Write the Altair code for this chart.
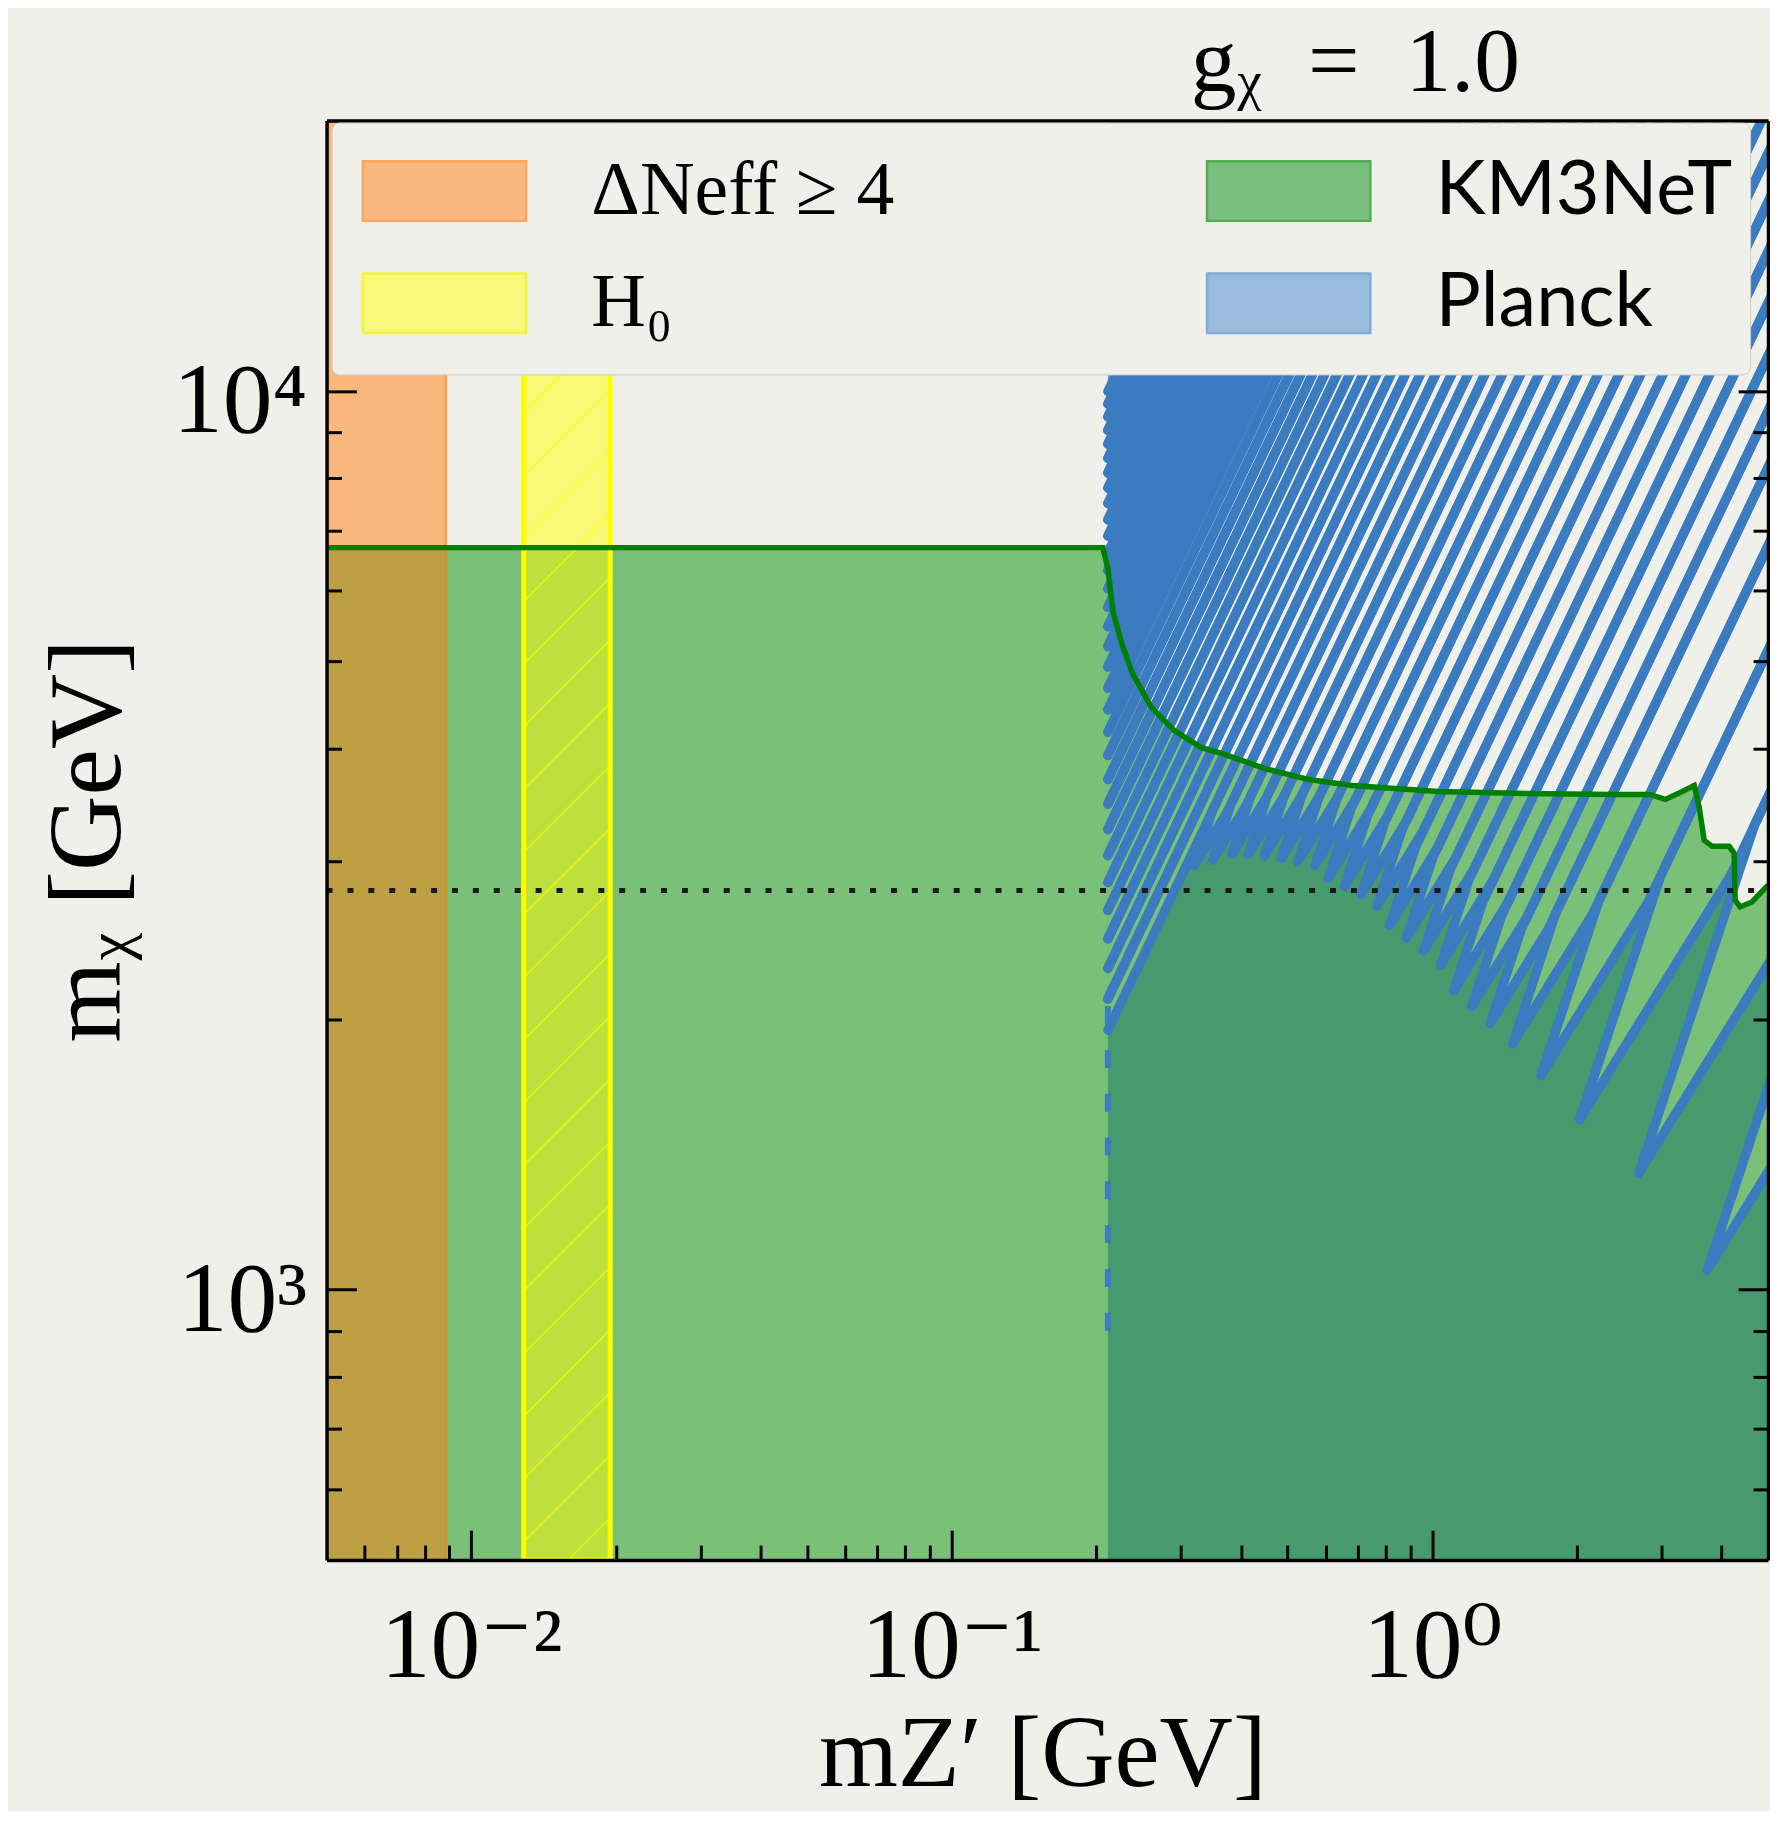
import altair as alt
import numpy as np
import pandas as pd

# ---------------------------------------------------------------- style
W, H = 1448, 1446
BG = "#f0f0eb"
PLANCK_FILL = "#6f94d1"
PLANCK_LINE = "#3b7bc0"
SERIF = "Liberation Serif, DejaVu Serif, serif"

# ---------------------------------------------------------------- data
X_DOMAIN = [0.005, 5.0]          # m_Z' [GeV]
Y_DOMAIN = [500.0, 20000.0]      # m_chi [GeV]

x_major = [0.01, 0.1, 1.0]
x_major_text = ["10\u207b\u00b2", "10\u207b\u00b9", "10\u2070"]
x_minor = [0.006, 0.007, 0.008, 0.009, 0.02, 0.03, 0.04, 0.05, 0.06, 0.07,
           0.08, 0.09, 0.2, 0.3, 0.4, 0.5, 0.6, 0.7, 0.8, 0.9, 2, 3, 4]
y_major = [1000, 10000]
y_major_text = ["10\u00b3", "10\u2074"]
y_minor = [600, 700, 800, 900, 2000, 3000, 4000, 5000, 6000, 7000, 8000, 9000]

# KM3NeT exclusion boundary
km3_x = [0.005, 0.2064, 0.2114, 0.2166, 0.2261, 0.2382, 0.2608, 0.2911, 0.3311,
         0.3660, 0.4493, 0.5542, 0.6805, 1.030, 1.561, 2.375, 2.833, 3.058,
         3.317, 3.511, 3.596, 3.683, 3.826, 4.150, 4.250, 4.271, 4.374, 4.631, 5.0]
km3_y = [6695, 6695, 6345, 5686, 5227, 4842, 4441, 4186, 4010, 3949, 3800, 3695,
         3639, 3584, 3566, 3557, 3557, 3512, 3584, 3639, 3440, 3162, 3114, 3114,
         3059, 2714, 2666, 2700, 2819]

dneff_band = [0.005, 0.00886]
h0_band = [0.01286, 0.01947]
planck_edge = 0.2114
planck_dash_y = [900, 2100]
dotted_y = 2780

# Planck: allowed "lobes" (resonance fingers) cut out of the excluded region.
# lobe k lies between lobe_bounds_x[k] and lobe_bounds_x[k+1] at m_chi = 1e4;
# lobes whose tip sits on the Planck edge run into it, the others close at a tip.
lobe_bounds_x = [0.2116, 0.2177, 0.2242, 0.2312, 0.2386, 0.2464, 0.2548, 0.2637,
                 0.2732, 0.2835, 0.2943, 0.3059, 0.3184, 0.3319, 0.3463, 0.3618,
                 0.3786, 0.3967, 0.4163, 0.4375, 0.4606, 0.4857, 0.5129, 0.5426,
                 0.5748, 0.6101, 0.6487, 0.6914, 0.7379, 0.7895, 0.8462, 0.9091,
                 0.9788, 1.0563, 1.1429, 1.2393, 1.3475, 1.4689, 1.6052, 1.7590,
                 1.9334, 2.1308, 2.3565, 2.6142, 2.9084, 3.2478, 3.6384, 4.0906,
                 4.6174, 5.2335, 5.9524, 7.116, 9.035, 12.62, 20.33, 37.80, 89.19,
                 280.2]
lobe_tip_x = [0.2114] * 31 + [
    0.3200, 0.3494, 0.3825, 0.4136, 0.4476, 0.4852, 0.5254, 0.5707, 0.6075,
    0.6565, 0.7113, 0.7678, 0.8157, 0.8840, 0.9587, 1.0422, 1.1078, 1.2074,
    1.3203, 1.4711, 1.6845, 2.0277, 2.6915, 3.7363, 5.590, 9.645]
lobe_tip_y = [9826, 9511, 9196, 8878, 8567, 8254, 7946, 7644, 7338, 7040, 6743,
              6452, 6163, 5879, 5603, 5326, 5059, 4795, 4540, 4289, 4045, 3808,
              3579, 3356, 3143, 2935, 2736, 2545, 2362, 2189, 2021,
              2965, 3006, 3050, 3047, 3035, 3020, 2993, 2967, 2867, 2810, 2750,
              2672, 2542, 2463, 2380, 2297, 2151, 2064, 1977, 1878, 1730, 1546,
              1347, 1051, 718.5, 427.6]
LOBE_REF_Y = 1e4
STRIPE_SLOPE = 1.123     # log-log tilt of the fingers
TAPER = 1.87             # finger tip length (decades of m_chi per decade of width)

legend_labels = ["\u0394Neff \u2265 4", "H\u2080", "KM3NeT", "Planck"]
legend_fill = ["#f8b97e", "#f8f87a", "#7abf7b", "#99bbdc"]
legend_edge = ["#fba45c", "#f4f43c", "#55ad55", "#80abd6"]

# ---------------------------------------------------------------- frames
km3 = pd.DataFrame({"x": km3_x, "y": km3_y, "ylo": Y_DOMAIN[0]})
rect_planck = pd.DataFrame({"x0": [planck_edge], "x1": [X_DOMAIN[1]],
                            "y0": [Y_DOMAIN[0]], "y1": [Y_DOMAIN[1]]})
rect_dneff = pd.DataFrame({"x0": [dneff_band[0]], "x1": [dneff_band[1]],
                           "y0": [Y_DOMAIN[0]], "y1": [Y_DOMAIN[1]]})
rect_h0 = pd.DataFrame({"x0": [h0_band[0]], "x1": [h0_band[1]],
                        "y0": [Y_DOMAIN[0]], "y1": [Y_DOMAIN[1]]})

v_ref, v_top = np.log10(LOBE_REF_Y), np.log10(Y_DOMAIN[1])
u_edge = np.log10(planck_edge)
lb = np.log10(lobe_bounds_x)


def band_u(l, v):
    return l + (v - v_ref) / STRIPE_SLOPE


area_rows, edge_rows = [], []
edge_id = 0
for k in range(len(lobe_tip_x)):
    L, R = lb[k], lb[k + 1]
    uLt, uRt = band_u(L, v_top), band_u(R, v_top)
    if lobe_tip_x[k] > planck_edge * 1.0001:
        ut, vt = np.log10(lobe_tip_x[k]), np.log10(lobe_tip_y[k])
        vn = min(vt + TAPER * (R - L), (vt + v_ref) / 2 + 0.25)
        uLn, uRn = band_u(L, vn), band_u(R, vn)
        up = [(ut, vt), (uLn, vn), (uLt, v_top), (uRt, v_top)]
        lo = [(ut, vt), (uRn, vn), (uRt, v_top)]
        edges = [[(uLt, v_top), (uLn, vn), (ut, vt), (uRn, vn), (uRt, v_top)]]
    else:
        vl = v_ref + STRIPE_SLOPE * (u_edge - L)
        vr = v_ref + STRIPE_SLOPE * (u_edge - R)
        up = [(u_edge, vl), (uLt, v_top), (uRt, v_top)]
        lo = [(u_edge, vr), (uRt, v_top)]
        edges = [[(uLt, v_top), (u_edge, vl)], [(u_edge, vr), (uRt, v_top)]]
    up_u, up_v = zip(*up)
    lo_u, lo_v = zip(*lo)
    grid = np.unique(np.array(up_u + lo_u))
    vhi = np.interp(grid, up_u, up_v)
    vlo = np.interp(grid, lo_u, lo_v)
    for g, a, b in zip(grid, vlo, vhi):
        area_rows.append(dict(lobe=k, x=10 ** g, ylo=10 ** a, yhi=10 ** b))
    for e in edges:
        for i, (u, v) in enumerate(e):
            edge_rows.append(dict(edge=edge_id, i=i, x=10 ** u, y=10 ** v))
        edge_id += 1
lobes = pd.DataFrame(area_rows)
lobe_edges = pd.DataFrame(edge_rows)

# hatch texture of the H0 band ("//")
hatch_y0 = 380 * 1.1743 ** np.arange(26)
hatch = pd.DataFrame({"x0": h0_band[0], "x1": h0_band[1],
                      "y0": hatch_y0, "y1": hatch_y0 * 1.2484})

dash = pd.DataFrame({"x": [planck_edge], "y0": [planck_dash_y[0]], "y1": [planck_dash_y[1]]})
dotted = pd.DataFrame({"y": [dotted_y], "x0": [X_DOMAIN[0]], "x1": [X_DOMAIN[1]]})
leg = pd.DataFrame({"label": legend_labels, "x": 1e-4, "y": 1000.0})

# ---------------------------------------------------------------- scales/axes
def xs():
    return alt.Scale(type="log", domain=X_DOMAIN, nice=False)


def ys():
    return alt.Scale(type="log", domain=Y_DOMAIN, nice=False)


def tick_axis(orient, offset, values, size, domain):
    return alt.Axis(orient=orient, offset=offset, values=values, labels=False,
                    ticks=True, tickSize=size, tickWidth=3, tickColor="black",
                    domain=domain, domainColor="black", domainWidth=3.5,
                    grid=False, title=None, zindex=1)


x_expr = "[" + ",".join("'%s'" % t for t in x_major_text) + "][round(log(datum.value)/LN10) + %d]" % (
    -int(round(np.log10(x_major[0]))))
y_expr = "[" + ",".join("'%s'" % t for t in y_major_text) + "][round(log(datum.value)/LN10) - %d]" % (
    int(round(np.log10(y_major[0]))))

ax_x_lab = alt.Axis(orient="bottom", values=x_major, labelExpr=x_expr, ticks=False,
                    tickSize=0, domain=False, grid=False, labelFont=SERIF,
                    labelFontSize=100, labelColor="black", labelPadding=117,
                    labelBaseline="alphabetic", labelFlush=False, labelOverlap=False,
                    labelLimit=500,
                    title="mZ\u2032 [GeV]", titleFont=SERIF, titleFontSize=102,
                    titleFontWeight="normal", titleColor="black",
                    titleBaseline="alphabetic", titleAlign="center", titleX=719, titleY=226)
ax_y_lab = alt.Axis(orient="left", values=y_major, labelExpr=y_expr, ticks=False,
                    tickSize=0, domain=False, grid=False, labelFont=SERIF,
                    labelFontSize=100, labelColor="black", labelPadding=20,
                    labelBaseline="alphabetic", labelOffset=41, labelAlign="right",
                    labelFlush=False, labelOverlap=False, labelLimit=500,
                    title="m\u1d6a [GeV]", titleFont=SERIF, titleFontSize=105,
                    titleFontWeight="normal", titleColor="black", titleAngle=270,
                    titleBaseline="alphabetic", titleAlign="center",
                    titleX=-208, titleY=H / 2)
ax_x_major_in = tick_axis("top", -H, x_major, 30, True)
ax_x_minor_in = tick_axis("top", -H, x_minor, 15, False)
ax_x_top = alt.Axis(orient="bottom", offset=-H, labels=False, ticks=False, domain=True,
                    domainColor="black", domainWidth=3.5, grid=False, title=None, zindex=1)
ax_yl_major = tick_axis("right", -W, y_major, 30, True)
ax_yl_minor = tick_axis("right", -W, y_minor, 15, False)
ax_yr_major = tick_axis("left", -W, y_major, 30, True)
ax_yr_minor = tick_axis("left", -W, y_minor, 15, False)

# ---------------------------------------------------------------- layers
planck_rect = alt.Chart(rect_planck).mark_rect(fill=PLANCK_FILL, clip=True).encode(
    x=alt.X("x0:Q", scale=xs(), axis=ax_x_lab), x2="x1",
    y=alt.Y("y0:Q", scale=ys(), axis=ax_y_lab), y2="y1")

lobe_fill = alt.Chart(lobes).mark_area(fill=BG, opacity=1, clip=True).encode(
    x=alt.X("x:Q", scale=xs(), axis=ax_x_major_in),
    y=alt.Y("yhi:Q", scale=ys(), axis=ax_yl_major, stack=None), y2="ylo",
    detail="lobe:N")

green_area = alt.Chart(km3).mark_area(fill="#2ca02c", fillOpacity=0.6, clip=True).encode(
    x=alt.X("x:Q", scale=xs(), axis=ax_x_minor_in),
    y=alt.Y("y:Q", scale=ys(), axis=ax_yl_minor, stack=None), y2="ylo")

dneff = alt.Chart(rect_dneff).mark_rect(fill="#ff7f0e", fillOpacity=0.5, stroke="#ff7f0e",
                                        strokeOpacity=0.6, strokeWidth=2.5, clip=True).encode(
    x=alt.X("x0:Q", scale=xs(), axis=ax_x_top), x2="x1",
    y=alt.Y("y0:Q", scale=ys(), axis=ax_yr_major), y2="y1")

h0 = alt.Chart(rect_h0).mark_rect(fill="#ffff00", fillOpacity=0.5, stroke="#ffff00",
                                  strokeOpacity=1, strokeWidth=5, clip=True).encode(
    x=alt.X("x0:Q", scale=xs(), axis=None), x2="x1",
    y=alt.Y("y0:Q", scale=ys(), axis=ax_yr_minor), y2="y1")

h0_hatch = alt.Chart(hatch).mark_rule(color="#ffff00", opacity=0.5, strokeWidth=2,
                                      clip=True).encode(
    x=alt.X("x0:Q", scale=xs(), axis=None), x2="x1",
    y=alt.Y("y0:Q", scale=ys(), axis=None), y2="y1")

lobe_line = alt.Chart(lobe_edges).mark_line(color=PLANCK_LINE, strokeWidth=9.5,
                                            strokeJoin="round", strokeCap="round",
                                            clip=True).encode(
    x=alt.X("x:Q", scale=xs(), axis=None),
    y=alt.Y("y:Q", scale=ys(), axis=None),
    detail="edge:N", order="i:Q")

planck_dash = alt.Chart(dash).mark_rule(color=PLANCK_LINE, strokeWidth=6,
                                        strokeDash=[18, 26], clip=True).encode(
    x=alt.X("x:Q", scale=xs(), axis=None),
    y=alt.Y("y0:Q", scale=ys(), axis=None), y2="y1")

green_line = alt.Chart(km3).mark_line(color="#008000", strokeWidth=5.5, clip=True).encode(
    x=alt.X("x:Q", scale=xs(), axis=None),
    y=alt.Y("y:Q", scale=ys(), axis=None))

dotted_line = alt.Chart(dotted).mark_rule(color="#1a1a1a", strokeWidth=5,
                                          strokeDash=[6, 15], clip=True).encode(
    y=alt.Y("y:Q", scale=ys(), axis=None),
    x=alt.X("x0:Q", scale=xs(), axis=None), x2="x1")

legend_font = {"expr": "indexof(['KM3NeT','Planck'], datum.label) >= 0 ? '%s' : '%s'" % (
    "Lato", "Liberation Serif")}


def make_legend():
    return alt.Legend(title=" ", titleOrient="bottom", titleFontSize=12, titlePadding=5,
                      orient="none", legendX=5, legendY=2,
                      direction="vertical", columns=2,
                      symbolType="M-0.74,-0.6H2.54V0.6H-0.74Z", symbolSize=10000,
                      symbolStrokeWidth=2.5, symbolOpacity=1,
                      labelFont=legend_font, labelFontSize=76, labelColor="black",
                      labelOffset=141, labelLimit=1200, rowPadding=23,
                      columnPadding=299, padding=17, fillColor=BG,
                      strokeColor="#cfcfcb", cornerRadius=8, zindex=2)


legend_host = alt.Chart(leg).mark_point(filled=True, size=10, opacity=1, clip=True).encode(
    x=alt.X("x:Q", scale=xs(), axis=None),
    y=alt.Y("y:Q", scale=ys(), axis=None),
    fill=alt.Fill("label:N", scale=alt.Scale(domain=legend_labels, range=legend_fill),
                  legend=make_legend()),
    stroke=alt.Stroke("label:N", scale=alt.Scale(domain=legend_labels, range=legend_edge),
                      legend=make_legend()))

chart = alt.layer(
    planck_rect, lobe_fill, green_area, dneff, h0, h0_hatch, lobe_line, planck_dash,
    green_line, dotted_line, legend_host
).resolve_axis(x="independent", y="independent").properties(
    width=W, height=H,
    autosize=alt.AutoSizeParams(type="none"),
    padding={"left": 320, "top": 109, "right": 2, "bottom": 248},
    background=BG,
    title=alt.Title(text="g\u1d6a\u2002=\u20021.0", anchor="start", dx=868, dy=90,
                    offset=28, baseline="alphabetic", font=SERIF, fontSize=92,
                    fontWeight="normal", color="black", frame="group"),
).configure_view(strokeWidth=0)

chart.save("out.html", embed_options={"renderer": "svg", "actions": False})
